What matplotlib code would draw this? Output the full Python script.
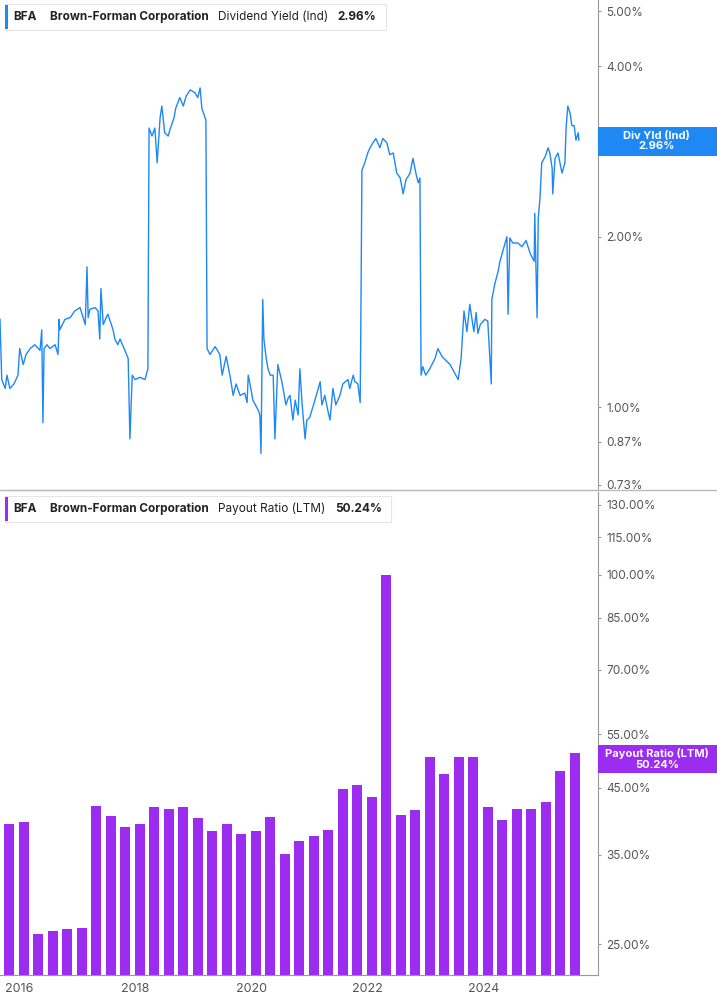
import numpy as np
import matplotlib
matplotlib.use("Agg")
import matplotlib.pyplot as plt
from matplotlib.patches import Rectangle

plt.rcParams["font.family"] = "Inter"

# ----- dividend yield (%), decimal years -----
yld_dates = [
    2015.67, 2015.70, 2015.76, 2015.79, 2015.84, 2015.91, 2015.98, 2016.01, 2016.07, 2016.12,
    2016.19, 2016.27, 2016.36, 2016.39, 2016.41, 2016.43, 2016.48, 2016.53, 2016.62, 2016.67,
    2016.69, 2016.70, 2016.79, 2016.88, 2016.96, 2017.05, 2017.14, 2017.17, 2017.19, 2017.22,
    2017.31, 2017.36, 2017.39, 2017.41, 2017.45, 2017.50, 2017.53, 2017.57, 2017.62, 2017.65,
    2017.70, 2017.74, 2017.81, 2017.88, 2017.91, 2017.95, 2018.00, 2018.08, 2018.17, 2018.22,
    2018.24, 2018.29, 2018.34, 2018.38, 2018.43, 2018.46, 2018.51, 2018.57, 2018.60, 2018.67,
    2018.70, 2018.77, 2018.83, 2018.88, 2018.95, 2019.03, 2019.08, 2019.12, 2019.15, 2019.22,
    2019.24, 2019.29, 2019.38, 2019.46, 2019.50, 2019.57, 2019.64, 2019.69, 2019.74, 2019.81,
    2019.89, 2019.93, 2019.95, 2019.98, 2020.03, 2020.12, 2020.15, 2020.17, 2020.20, 2020.22,
    2020.26, 2020.29, 2020.33, 2020.38, 2020.41, 2020.46, 2020.53, 2020.60, 2020.64, 2020.67,
    2020.72, 2020.76, 2020.81, 2020.84, 2020.88, 2020.93, 2020.96, 2021.01, 2021.10, 2021.19,
    2021.22, 2021.27, 2021.32, 2021.36, 2021.41, 2021.46, 2021.53, 2021.58, 2021.67, 2021.70,
    2021.76, 2021.79, 2021.84, 2021.88, 2021.89, 2021.91, 2021.96, 2022.01, 2022.05, 2022.10,
    2022.15, 2022.22, 2022.27, 2022.34, 2022.39, 2022.45, 2022.51, 2022.57, 2022.62, 2022.67,
    2022.74, 2022.79, 2022.84, 2022.88, 2022.91, 2022.93, 2022.96, 2023.01, 2023.08, 2023.17,
    2023.22, 2023.29, 2023.36, 2023.43, 2023.51, 2023.57, 2023.62, 2023.67, 2023.72, 2023.77,
    2023.84, 2023.88, 2023.91, 2023.95, 2024.03, 2024.08, 2024.14, 2024.15, 2024.20, 2024.26,
    2024.29, 2024.38, 2024.41, 2024.43, 2024.46, 2024.51, 2024.60, 2024.67, 2024.74, 2024.81,
    2024.88, 2024.89, 2024.93, 2024.95, 2024.98, 2025.01, 2025.07, 2025.12, 2025.15, 2025.19,
    2025.20, 2025.24, 2025.29, 2025.36, 2025.41, 2025.43, 2025.46, 2025.50, 2025.53, 2025.57,
    2025.60, 2025.64, 2025.65,
]
yld_values = [
    1.43, 1.12, 1.08, 1.14, 1.08, 1.10, 1.14, 1.27, 1.19, 1.24,
    1.27, 1.29, 1.26, 1.37, 0.94, 1.27, 1.29, 1.27, 1.29, 1.24,
    1.43, 1.37, 1.43, 1.44, 1.48, 1.50, 1.40, 1.77, 1.44, 1.49,
    1.50, 1.48, 1.32, 1.62, 1.40, 1.44, 1.46, 1.42, 1.37, 1.32,
    1.29, 1.32, 1.27, 1.22, 0.88, 1.14, 1.12, 1.13, 1.12, 1.17,
    3.11, 3.01, 3.11, 2.70, 3.24, 3.40, 3.05, 3.01, 3.09, 3.24,
    3.37, 3.52, 3.40, 3.54, 3.63, 3.59, 3.52, 3.66, 3.37, 3.21,
    1.27, 1.24, 1.28, 1.24, 1.14, 1.23, 1.13, 1.05, 1.10, 1.05,
    1.06, 1.02, 1.14, 1.10, 1.03, 0.99, 0.97, 0.83, 1.55, 1.32,
    1.22, 1.17, 1.14, 1.14, 0.88, 1.19, 1.11, 1.01, 1.04, 1.05,
    0.95, 1.03, 0.97, 1.17, 1.01, 0.88, 0.95, 0.96, 1.03, 1.11,
    1.01, 1.05, 0.99, 0.95, 1.08, 1.01, 1.05, 1.10, 1.12, 1.08,
    1.14, 1.11, 1.10, 1.02, 1.35, 2.62, 2.70, 2.81, 2.87, 2.93,
    2.98, 2.87, 2.98, 2.93, 2.79, 2.81, 2.59, 2.54, 2.38, 2.52,
    2.59, 2.75, 2.59, 2.49, 2.54, 1.14, 1.18, 1.14, 1.17, 1.22,
    1.27, 1.23, 1.21, 1.19, 1.15, 1.12, 1.22, 1.48, 1.36, 1.52,
    1.36, 1.47, 1.35, 1.40, 1.43, 1.42, 1.10, 1.55, 1.65, 1.74,
    1.81, 1.95, 2.00, 1.46, 1.99, 1.95, 1.95, 1.92, 1.97, 1.87,
    1.81, 2.20, 1.44, 2.15, 2.34, 2.70, 2.77, 2.87, 2.81, 2.64,
    2.38, 2.75, 2.81, 2.59, 2.70, 3.11, 3.40, 3.30, 3.14, 3.14,
    2.96, 3.05, 2.96,
]

# ----- payout ratio (LTM, %), quarterly bars -----
payout_start = 2015.83
payout_values = [
    38.2, 38.5, 25.0, 25.3, 25.5, 25.6, 41.0, 39.5, 37.8, 38.3,
    40.8, 40.5, 40.8, 39.1, 37.3, 38.3, 36.8, 37.3, 39.3, 34.1,
    35.9, 36.6, 37.4, 43.8, 44.5, 42.5, 99.0, 39.6, 40.4, 49.5,
    46.3, 49.4, 49.4, 40.9, 38.9, 40.6, 40.6, 41.6, 46.9, 50.24,
]

yld_ticks = [5.0, 4.0, 3.0, 2.0, 1.0, 0.87, 0.73]
payout_ticks = [130, 115, 100, 85, 70, 55, 45, 35, 25]
year_ticks = [2016, 2018, 2020, 2022, 2024]

BLUE = "#1e88f5"
PURPLE = "#9b2cf0"
GREY = "#555555"
XMIN, XMAX = 2015.67, 2025.98

fig = plt.figure(figsize=(7.17, 10.05), dpi=100)
ax1 = fig.add_axes([0, 0.5124, 0.834, 0.4876])
ax2 = fig.add_axes([0, 0.0299, 0.834, 0.4806])


def style(ax):
    for s in ("top", "left"):
        ax.spines[s].set_visible(False)
    for s in ("right", "bottom"):
        ax.spines[s].set_color("#999999")
    ax.yaxis.tick_right()
    ax.tick_params(axis="y", length=2, color="#999999", labelcolor=GREY, labelsize=8.5, pad=4)
    ax.tick_params(axis="x", length=0, labelcolor=GREY, labelsize=9, pad=6)
    ax.set_xlim(XMIN, XMAX)


# top: dividend yield
ax1.plot(yld_dates, yld_values, color=BLUE, lw=1.0)
ax1.set_yscale("log")
ax1.set_ylim(0.715, 5.23)
style(ax1)
ax1.set_yticks(yld_ticks)
ax1.set_yticklabels([f"{t:.2f}%" for t in yld_ticks])
ax1.minorticks_off()
ax1.set_xticks([])

# bottom: payout ratio
ax2.bar(payout_start + 0.25 * np.arange(len(payout_values)), payout_values,
        width=0.175, color=PURPLE, bottom=1)
ax2.set_yscale("log")
ax2.set_ylim(22.3, 136.3)
style(ax2)
ax2.set_yticks(payout_ticks)
ax2.set_yticklabels([f"{t:.2f}%" for t in payout_ticks])
ax2.minorticks_off()
ax2.set_xticks(year_ticks)
ax2.set_xticklabels([str(y) for y in year_ticks])

# separator line across the full width
fig.add_artist(plt.Line2D([0, 1], [0.5124, 0.5124], color="#bbbbbb", lw=1))

renderer = fig.canvas.get_renderer()


def legend_box(ax, color, label, value):
    y = 0.965
    x = 0.022
    parts = [("BFA", "bold", 0.022), ("Brown-Forman Corporation", "bold", 0.015),
             (label, "normal", 0.017), (value, "bold", 0.015)]
    for txt, weight, gap in parts:
        t = ax.text(x, y, txt, transform=ax.transAxes, fontsize=8.5, fontweight=weight,
                    color="#222222", va="center", zorder=7)
        bb = t.get_window_extent(renderer).transformed(ax.transAxes.inverted())
        x = bb.x1 + gap
    ax.add_patch(Rectangle((0.008, 0.938), x - 0.008, 0.054, transform=ax.transAxes,
                           facecolor="white", edgecolor="#e6e6e6", lw=0.8, zorder=5))
    ax.add_patch(Rectangle((0.008, 0.94), 0.006, 0.05, transform=ax.transAxes,
                           facecolor=color, edgecolor="none", zorder=6))


legend_box(ax1, BLUE, "Dividend Yield (Ind)", "2.96%")
legend_box(ax2, PURPLE, "Payout Ratio (LTM)", "50.24%")

fig.text(0.916, 1 - 141 / 1005, "Div Yld (Ind)\n2.96%", ha="center", va="center",
         fontsize=8, fontweight="bold", color="white", linespacing=1.1, zorder=10)
fig.patches.append(Rectangle((0.834, 1 - 156 / 1005), 1 - 0.834, 29 / 1005,
                             transform=fig.transFigure, facecolor=BLUE, edgecolor="none", zorder=9))
fig.text(0.916, 1 - 759 / 1005, "Payout Ratio (LTM)\n50.24%", ha="center", va="center",
         fontsize=8, fontweight="bold", color="white", linespacing=1.1, zorder=10)
fig.patches.append(Rectangle((0.834, 1 - 773 / 1005), 1 - 0.834, 28 / 1005,
                             transform=fig.transFigure, facecolor=PURPLE, edgecolor="none", zorder=9))

fig.savefig("out.png", dpi=100)
